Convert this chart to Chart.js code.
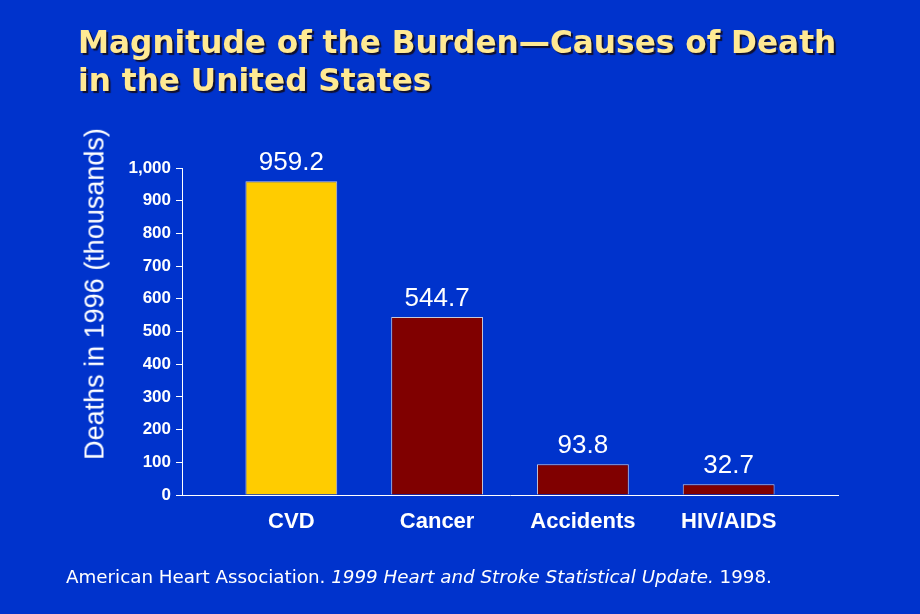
<!DOCTYPE html>
<html>
<head>
<meta charset="utf-8">
<script src="https://cdn.jsdelivr.net/npm/chart.js@4.4.1/dist/chart.umd.min.js"></script>
<style>
  html, body { margin: 0; padding: 0; }
  body { width: 920px; height: 614px; background: #0033CC; position: relative; overflow: hidden; }
  #wrap { position: absolute; left: 0; top: 0; width: 920px; height: 614px; }
  #title { position: absolute; left: 78px; top: 23px; font-family: "DejaVu Sans", Verdana, sans-serif; font-weight: bold; font-size: 31.2px; line-height: 38px; color: #FFE993; text-shadow: 2px 2px 1px #101030; white-space: nowrap; }
  #ytitle { position: absolute; left: 95px; top: 294px; transform: translate(-50%, -50%) rotate(-90deg); font-family: "Liberation Sans", Arial, sans-serif; font-size: 27px; color: #ffffff; white-space: nowrap; }
  #footer { position: absolute; left: 66px; top: 566px; font-family: "DejaVu Sans", Verdana, sans-serif; font-size: 18.3px; color: #ffffff; white-space: nowrap; }
</style>
</head>
<body>
<div id="wrap"><canvas id="c" width="920" height="614"></canvas></div>
<div id="title">Magnitude of the Burden—Causes of Death<br>in the United States</div>
<div id="ytitle">Deaths in 1996 (thousands)</div>
<div id="footer">American Heart Association. <i>1999 Heart and Stroke Statistical Update.</i> 1998.</div>
<script>
const categories = ["CVD", "Cancer", "Accidents", "HIV/AIDS"];
const deaths = [959.2, 544.7, 93.8, 32.7];
const yTicks = [0, 100, 200, 300, 400, 500, 600, 700, 800, 900, 1000];

const points = categories.map((c, i) => ({ x: i + 1, y: deaths[i] }));

const valueLabels = {
  id: "valueLabels",
  afterDatasetsDraw(chart) {
    const ctx = chart.ctx;
    const meta = chart.getDatasetMeta(0);
    ctx.save();
    ctx.fillStyle = "#ffffff";
    ctx.font = "26px 'Liberation Sans', Arial, sans-serif";
    ctx.textAlign = "center";
    ctx.textBaseline = "alphabetic";
    meta.data.forEach((bar, i) => {
      ctx.fillText(deaths[i].toFixed(1), bar.x, bar.y - 11);
    });
    ctx.restore();
  }
};

new Chart(document.getElementById("c"), {
  type: "bar",
  data: {
    datasets: [{
      data: points,
      backgroundColor: ["#FFCC00", "#800000", "#800000", "#800000"],
      borderColor: "#C8C8D8",
      borderWidth: 1,
      categoryPercentage: 0.7,
      barPercentage: 0.9
    }]
  },
  options: {
    responsive: false,
    animation: false,
    layout: { padding: { left: 0, right: 82, top: 168, bottom: 0 } },
    plugins: { legend: { display: false }, tooltip: { enabled: false } },
    scales: {
      x: {
        type: "linear",
        offset: false,
        min: 0.25,
        max: 4.75,
        afterBuildTicks(scale) { scale.ticks = categories.map((c, i) => ({ value: i + 1 })); },
        afterFit(scale) { scale.height = 119; },
        grid: { display: false, offset: false },
        border: { display: true, color: "#ffffff", width: 1 },
        ticks: {
          color: "#ffffff",
          padding: 6,
          font: { family: "'Liberation Sans', Arial, sans-serif", size: 22, weight: "bold" },
          callback: (v) => categories[v - 1]
        }
      },
      y: {
        min: 0,
        max: 1000,
        afterBuildTicks(scale) { scale.ticks = yTicks.map(v => ({ value: v })); },
        afterFit(scale) { scale.width = 182; },
        grid: { drawOnChartArea: false, drawTicks: true, tickLength: 6, color: "#ffffff" },
        border: { display: true, color: "#ffffff", width: 1 },
        ticks: {
          color: "#ffffff",
          padding: 5,
          font: { family: "'Liberation Sans', Arial, sans-serif", size: 17, weight: "bold" },
          callback: (v) => v.toLocaleString("en-US")
        }
      }
    }
  },
  plugins: [valueLabels]
});
</script>
</body>
</html>
